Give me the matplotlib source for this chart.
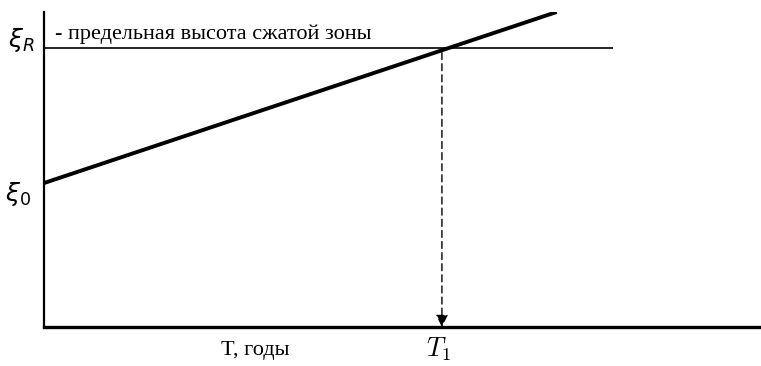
import matplotlib.pyplot as plt
import matplotlib.transforms as mtransforms

# values in axis units (x: 0..100 across the plot, y: 0..100 up the plot)
xi_0 = 45.7          # starting height of the compressed zone
xi_R = 88.6          # limit height of the compressed zone
line_T = [0, 71.5]   # time at the two ends of the growth line
line_xi = [45.7, 100.0]
limit_T = [0, 79.4]  # extent of the horizontal limit line
T_1 = 55.5           # time when the limit is reached

label_limit = "- предельная высота сжатой зоны"
label_T = "T, годы"

W, H = 761, 366
fig = plt.figure(figsize=(W / 100, H / 100), dpi=100)
ax = fig.add_axes([44 / W, (H - 327) / H, (W - 44) / W, (327 - 12) / H])
ax.set_xlim(0, 100)
ax.set_ylim(0, 100)

for side in ("top", "right"):
    ax.spines[side].set_visible(False)
ax.spines["left"].set_linewidth(1.6)
ax.spines["bottom"].set_linewidth(2.4)
ax.set_xticks([])
ax.set_yticks([])

# limit line and growth line
ax.plot(limit_T, [xi_R, xi_R], color="black", lw=1.2, solid_capstyle="butt")
ax.plot(line_T, line_xi, color="black", lw=2.8, solid_capstyle="butt")

# dashed drop from the intersection down to T_1
ax.annotate("", xy=(T_1, 0), xytext=(T_1, xi_R - 1.5),
            arrowprops=dict(arrowstyle="-|>", color="black", lw=1.0,
                            linestyle=(0, (5, 3)), mutation_scale=18,
                            shrinkA=0, shrinkB=0))

serif = "Liberation Serif"
ax.text(1.5, 91.4, label_limit, family=serif, fontsize=16, va="baseline")

left = mtransforms.blended_transform_factory(fig.transFigure, ax.transData)
ax.text(21 / W, xi_R + 2.5, r"$\xi_R$", transform=left, fontsize=18,
        ha="center", va="center")
ax.text(18 / W, xi_0 - 3.5, r"$\xi_0$", transform=left, fontsize=18,
        ha="center", va="center")

below = mtransforms.blended_transform_factory(ax.transData, fig.transFigure)
ax.text(T_1 - 0.5, (H - 349) / H, r"$T_1$", transform=below, fontsize=19,
        ha="center", va="center", math_fontfamily="cm")
ax.text(29.4, (H - 351) / H, label_T, transform=below, family=serif,
        fontsize=16, ha="center", va="center")

fig.savefig("out.png", dpi=100)
